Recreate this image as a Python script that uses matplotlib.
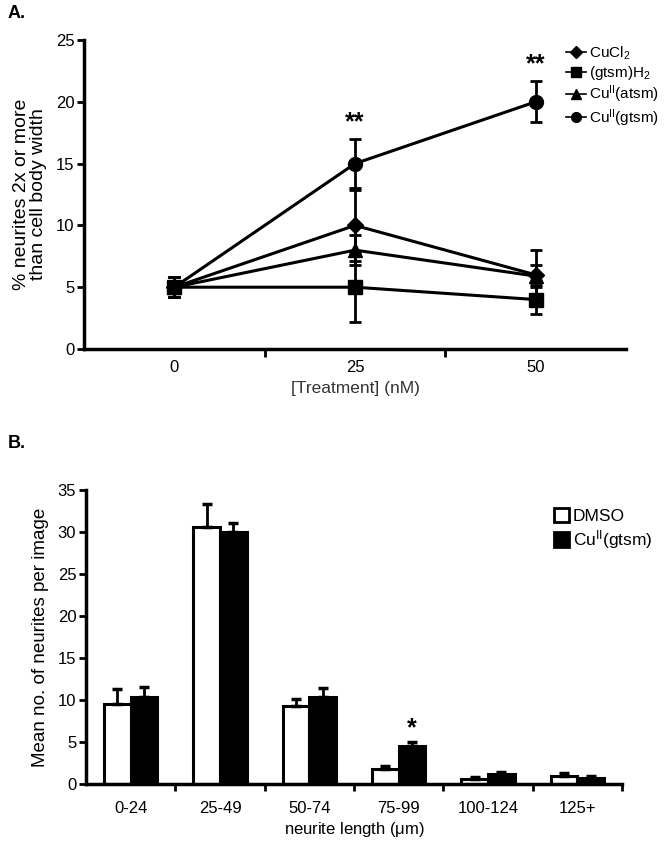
import matplotlib
matplotlib.use("Agg")
import matplotlib.pyplot as plt
from matplotlib.lines import Line2D
from matplotlib.patches import Patch
import numpy as np

plt.rcParams["font.family"] = ["Liberation Sans", "DejaVu Sans"]
plt.rcParams["mathtext.fontset"] = "custom"
plt.rcParams["mathtext.rm"] = "Liberation Sans"
plt.rcParams["mathtext.it"] = "Liberation Sans:italic"

# panel A data
doses = [0, 25, 50]
series_names = ["CuCl$_2$", "(gtsm)H$_2$", r"Cu$^{\mathrm{II}}$(atsm)", r"Cu$^{\mathrm{II}}$(gtsm)"]
series_markers = ["D", "s", "^", "o"]
cucl2 = [5.0, 10.0, 6.0]
cucl2_err = [0.8, 2.9, 2.0]
gtsmh2 = [5.0, 5.0, 4.0]
gtsmh2_err = [0.8, 2.8, 1.2]
atsm = [5.0, 8.0, 5.9]
atsm_err = [0.8, 1.2, 0.9]
gtsm = [5.0, 15.0, 20.0]
gtsm_err = [0.8, 2.0, 1.65]

# panel B data
length_bins = ["0-24", "25-49", "50-74", "75-99", "100-124", "125+"]
dmso = [9.5, 30.6, 9.3, 1.8, 0.55, 1.0]
dmso_err = [1.8, 2.7, 0.8, 0.4, 0.25, 0.3]
cu_gtsm = [10.3, 30.0, 10.3, 4.5, 1.2, 0.75]
cu_gtsm_err = [1.2, 1.1, 1.1, 0.45, 0.2, 0.15]

fig = plt.figure(figsize=(6.64, 8.46), dpi=100)

# ---------- A ----------
ax = fig.add_axes([84 / 664, 1 - 349 / 846, (626 - 84) / 664, (349 - 40) / 846])
all_y = [cucl2, gtsmh2, atsm, gtsm]
all_e = [cucl2_err, gtsmh2_err, atsm_err, gtsm_err]
handles = []
for y, e, m in zip(all_y, all_e, series_markers):
    ms = 8 if m == "D" else 10
    ax.errorbar(doses, y, yerr=e, color="black", lw=2.2, marker=m, ms=ms,
                capsize=4, capthick=2, elinewidth=2)
    handles.append(Line2D([], [], color="black", lw=1.2, marker=m, ms=6 if m == "D" else 7))

ax.set_xlim(-12.5, 62.5)
ax.set_ylim(0, 25)
ax.set_yticks(range(0, 26, 5))
ax.set_xticks([12.5, 37.5])
ax.set_xticklabels([])
ax.set_xticks(doses, minor=True)
ax.set_xticklabels([str(d) for d in doses], minor=True)
ax.tick_params(axis="x", which="minor", length=0, pad=8, labelsize=12)
ax.tick_params(axis="x", which="major", length=6, width=2)
ax.tick_params(axis="y", length=5, width=2, labelsize=12, pad=2)
for s in ["top", "right"]:
    ax.spines[s].set_visible(False)
for s in ["left", "bottom"]:
    ax.spines[s].set_linewidth(2.5)
ax.set_ylabel("% neurites 2x or more\nthan cell body width", fontsize=14, labelpad=6,
              linespacing=1.0)
ax.set_xlabel("[Treatment] (nM)", fontsize=12.5, labelpad=4, color="#333333")
ax.text(25, 18.3, "**", ha="center", va="center", fontsize=18, fontweight="bold")
ax.text(50, 23.0, "**", ha="center", va="center", fontsize=18, fontweight="bold")
fig.legend(handles, series_names, loc="upper left", bbox_to_anchor=(558 / 664, 1 - 37 / 846),
           frameon=False, fontsize=11, handlelength=1.35, handletextpad=0.15,
           labelspacing=0.12, borderpad=0)

fig.text(8 / 664, 1 - 14 / 846, "A.", fontsize=13, fontweight="bold", va="center")

# ---------- B ----------
bx = fig.add_axes([86 / 664, 1 - 784 / 846, (622 - 86) / 664, (784 - 490) / 846])
pos = np.arange(len(length_bins))
w = 0.3
n = len(length_bins)
bx.bar(pos - w / 2, dmso, w, yerr=[[0] * n, dmso_err], color="white", edgecolor="black", lw=2.2,
       error_kw=dict(ecolor="black", elinewidth=2, capsize=3.5, capthick=2.5))
bx.bar(pos + w / 2, cu_gtsm, w, yerr=[[0] * n, cu_gtsm_err], color="black", edgecolor="black",
       lw=2.2, error_kw=dict(ecolor="black", elinewidth=2, capsize=3.5, capthick=2.5))
bx.set_xlim(-0.5, 5.5)
bx.set_ylim(0, 35)
bx.set_yticks(range(0, 36, 5))
bx.set_xticks(np.arange(0.5, 5.6, 1))
bx.set_xticklabels([])
bx.set_xticks(pos, minor=True)
bx.set_xticklabels(length_bins, minor=True)
bx.tick_params(axis="x", which="minor", length=0, pad=12, labelsize=12)
bx.tick_params(axis="x", which="major", length=5, width=2)
bx.tick_params(axis="y", length=5, width=2, labelsize=12, pad=2)
for s in ["top", "right"]:
    bx.spines[s].set_visible(False)
for s in ["left", "bottom"]:
    bx.spines[s].set_linewidth(2.5)
bx.set_ylabel("Mean no. of neurites per image", fontsize=13.5, labelpad=6)
bx.set_xlabel(r"neurite length ($\mathrm{\mu}$m)", fontsize=12, labelpad=3)
bx.text(3 + w / 2, 6.6, "*", ha="center", va="center", fontsize=18, fontweight="bold")
bx.legend([Patch(facecolor="white", edgecolor="black", lw=2),
           Patch(facecolor="black", edgecolor="black", lw=2)],
          ["DMSO", r"Cu$^{\mathrm{II}}$(gtsm)"], loc="upper left",
          bbox_to_anchor=(545 / 664, 1 - 499 / 846), bbox_transform=fig.transFigure,
          frameon=False, fontsize=12.5, handlelength=0.9, handleheight=0.9,
          handletextpad=0.2, labelspacing=0.25, borderpad=0)

fig.text(8 / 664, 1 - 443 / 846, "B.", fontsize=13, fontweight="bold", va="center")

fig.savefig("out.png", dpi=100)
